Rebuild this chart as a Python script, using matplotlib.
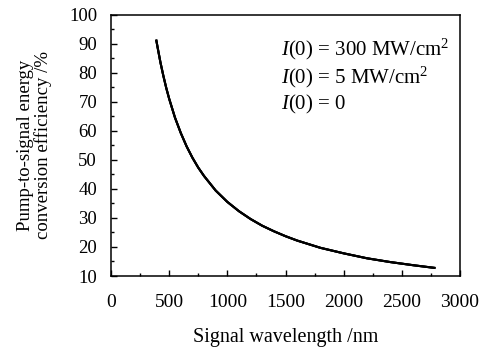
import matplotlib
matplotlib.use('Agg')
import matplotlib.pyplot as plt
from matplotlib.ticker import MultipleLocator

plt.rcParams['font.family'] = ['Liberation Serif', 'DejaVu Serif']
plt.rcParams['mathtext.fontset'] = 'custom'
plt.rcParams['mathtext.rm'] = 'Liberation Serif'
plt.rcParams['mathtext.it'] = 'Liberation Serif:italic'

# signal wavelength (nm) and efficiency (%)
wavelength = [390, 400, 425, 450, 475, 500, 550, 600, 650, 700, 750, 800, 900,
              1000, 1100, 1200, 1300, 1400, 1500, 1600, 1800, 2000, 2200, 2400,
              2600, 2780]
efficiency = [91.0, 88.8, 83.5, 78.9, 74.7, 71.0, 64.5, 59.2, 54.6, 50.7, 47.3,
              44.4, 39.4, 35.5, 32.3, 29.6, 27.3, 25.4, 23.7, 22.2, 19.7, 17.8,
              16.1, 14.8, 13.7, 12.8]
labels = [r'$I$(0) = 300 MW/cm$^2$', r'$I$(0) = 5 MW/cm$^2$', r'$I$(0) = 0']

fig = plt.figure(figsize=(4.82, 3.47), dpi=100)
ax = fig.add_axes([0.2303, 0.2046, 0.7241, 0.7536])

for lab in labels:
    ax.plot(wavelength, efficiency, color='black', lw=1.5, label=lab)

ax.set_xlim(0, 3000)
ax.set_ylim(10, 100)
ax.xaxis.set_major_locator(MultipleLocator(500))
ax.xaxis.set_minor_locator(MultipleLocator(250))
ax.yaxis.set_major_locator(MultipleLocator(10))
ax.yaxis.set_minor_locator(MultipleLocator(5))
ax.tick_params(which='both', direction='in', top=False, right=False)
ax.tick_params(axis='x', labelsize=14, pad=13)
ax.tick_params(axis='y', labelsize=13.5, pad=10)
ax.tick_params(which='major', length=4, width=1)
ax.tick_params(which='minor', length=2.5, width=1)
for s in ax.spines.values():
    s.set_linewidth(1.1)

ax.set_xlabel('Signal wavelength /nm', fontsize=14.5, labelpad=12)
ax.set_ylabel('Pump-to-signal energy\nconversion efficiency /%', fontsize=13.5,
              labelpad=12, linespacing=1.05)

leg = ax.legend(loc='upper left', bbox_to_anchor=(0.487, 0.916), frameon=False,
                handlelength=0, handletextpad=0, borderpad=0, borderaxespad=0,
                labelspacing=0.15, fontsize=15)
for h in leg.legend_handles:
    h.set_visible(False)

fig.savefig('out.png', dpi=100)
